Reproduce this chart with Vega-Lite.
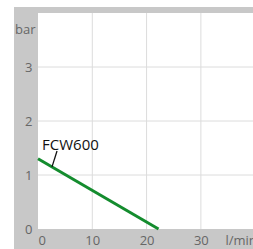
{
  "$schema": "https://vega.github.io/schema/vega-lite/v6.json",
  "width": 215,
  "height": 216,
  "autosize": {"type": "none"},
  "padding": {"left": 38, "top": 13, "right": 0, "bottom": 20},
  "background": "white",
  "config": {
    "view": {"stroke": null},
    "font": "Open Sans",
    "axis": {
      "grid": false, "ticks": false, "tickSize": 0, "domain": false,
      "labelFontSize": 13, "labelColor": "#666666", "labelFont": "Open Sans",
      "titleFontWeight": "normal", "titleFontSize": 13, "titleColor": "#666666", "titleFont": "Open Sans"
    },
    "axisX": {"labelFlush": true, "labelPadding": 5, "titleX": 187, "titleY": 15, "titleAlign": "left", "titleBaseline": "alphabetic"},
    "axisY": {"labelPadding": 6, "titleAngle": 0, "titleAlign": "right", "titleBaseline": "alphabetic", "titleX": -3, "titleY": 20}
  },
  "datasets": {
    "frame": [{"x": -4.42, "x2": 42, "y": -0.37, "y2": 4.111}],
    "plot": [{"x": 0, "x2": 42, "y": 0, "y2": 4}],
    "vgrid": [{"x": 10}, {"x": 20}, {"x": 30}],
    "hgrid": [{"y": 1}, {"y": 2}, {"y": 3}],
    "curve": [{"x": 0, "y": 1.3}, {"x": 22.2, "y": 0}],
    "leader": [{"x": 2.58, "y": 1.15}, {"x": 3.5, "y": 1.444}],
    "label": [{"x": 0.74, "y": 1.463, "text": "FCW600"}]
  },
  "layer": [
    {
      "data": {"name": "frame"},
      "mark": {"type": "rect", "color": "#c8c8c8"},
      "encoding": {
        "x": {"field": "x", "type": "quantitative", "scale": {"domain": [0, 39.6], "nice": false, "zero": false}, "title": "l/min", "axis": {"values": [0, 10, 20, 30], "zindex": 1}},
        "x2": {"field": "x2"},
        "y": {"field": "y", "type": "quantitative", "scale": {"domain": [0, 4], "nice": false, "zero": false}, "title": "bar", "axis": {"values": [0, 1, 2, 3], "zindex": 1}},
        "y2": {"field": "y2"}
      }
    },
    {
      "data": {"name": "plot"},
      "mark": {"type": "rect", "color": "#ffffff"},
      "encoding": {
        "x": {"field": "x", "type": "quantitative", "scale": {"domain": [0, 39.6], "nice": false, "zero": false}, "title": "l/min", "axis": {"values": [0, 10, 20, 30], "zindex": 1}},
        "x2": {"field": "x2"},
        "y": {"field": "y", "type": "quantitative", "scale": {"domain": [0, 4], "nice": false, "zero": false}, "title": "bar", "axis": {"values": [0, 1, 2, 3], "zindex": 1}},
        "y2": {"field": "y2"}
      }
    },
    {
      "data": {"name": "vgrid"},
      "mark": {"type": "rule", "color": "#dcdcdc", "strokeWidth": 1},
      "encoding": {
        "x": {"field": "x", "type": "quantitative", "scale": {"domain": [0, 39.6], "nice": false, "zero": false}, "title": "l/min", "axis": {"values": [0, 10, 20, 30], "zindex": 1}}
      }
    },
    {
      "data": {"name": "hgrid"},
      "mark": {"type": "rule", "color": "#dcdcdc", "strokeWidth": 1},
      "encoding": {
        "y": {"field": "y", "type": "quantitative", "scale": {"domain": [0, 4], "nice": false, "zero": false}, "title": "bar", "axis": {"values": [0, 1, 2, 3], "zindex": 1}}
      }
    },
    {
      "data": {"name": "curve"},
      "mark": {"type": "line", "color": "#148c2e", "strokeWidth": 3},
      "encoding": {
        "x": {"field": "x", "type": "quantitative", "scale": {"domain": [0, 39.6], "nice": false, "zero": false}, "title": "l/min", "axis": {"values": [0, 10, 20, 30], "zindex": 1}},
        "y": {"field": "y", "type": "quantitative", "scale": {"domain": [0, 4], "nice": false, "zero": false}, "title": "bar", "axis": {"values": [0, 1, 2, 3], "zindex": 1}}
      }
    },
    {
      "data": {"name": "leader"},
      "mark": {"type": "line", "color": "#111111", "strokeWidth": 1.3},
      "encoding": {
        "x": {"field": "x", "type": "quantitative", "scale": {"domain": [0, 39.6], "nice": false, "zero": false}, "title": "l/min", "axis": {"values": [0, 10, 20, 30], "zindex": 1}},
        "y": {"field": "y", "type": "quantitative", "scale": {"domain": [0, 4], "nice": false, "zero": false}, "title": "bar", "axis": {"values": [0, 1, 2, 3], "zindex": 1}}
      }
    },
    {
      "data": {"name": "label"},
      "mark": {"type": "text", "align": "left", "baseline": "alphabetic", "fontSize": 15, "font": "Open Sans", "color": "#111111"},
      "encoding": {
        "x": {"field": "x", "type": "quantitative", "scale": {"domain": [0, 39.6], "nice": false, "zero": false}, "title": "l/min", "axis": {"values": [0, 10, 20, 30], "zindex": 1}},
        "y": {"field": "y", "type": "quantitative", "scale": {"domain": [0, 4], "nice": false, "zero": false}, "title": "bar", "axis": {"values": [0, 1, 2, 3], "zindex": 1}},
        "text": {"field": "text"}
      }
    }
  ]
}
